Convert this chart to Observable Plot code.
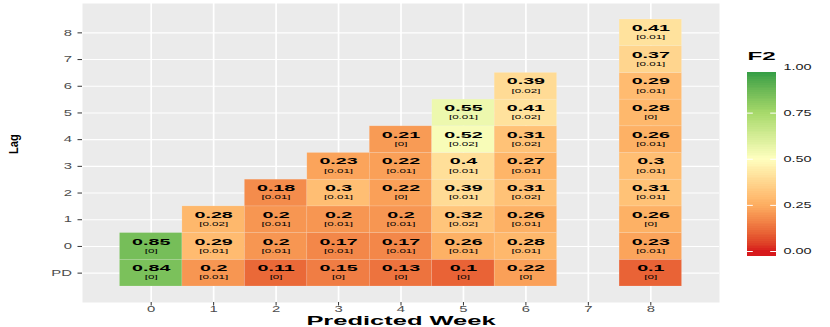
<!DOCTYPE html>
<html><head><meta charset="utf-8">
<script src="https://cdn.jsdelivr.net/npm/d3@7"></script>
<script src="https://cdn.jsdelivr.net/npm/@observablehq/plot@0.6"></script>
<style>
body{margin:0;background:#fff;}
#fig{position:relative;width:830px;height:327px;overflow:hidden;}
#fig svg{position:absolute;top:0;}
</style></head><body><div id="fig"></div>
<script>
// ---- data ----
const weeks = [0,1,2,3,4,5,6,7,8];            // x tick labels
const lagLabels = ["PD","0","1","2","3","4","5","6","7","8"]; // y tick labels
const lagValues = [-1,0,1,2,3,4,5,6,7,8];

// F2 per predicted week, lag from PD upwards
const f2W0 = [0.84, 0.85];
const seW0 = ["0","0"];
const f2W1 = [0.2, 0.29, 0.28];
const seW1 = ["0.01","0.01","0.02"];
const f2W2 = [0.11, 0.2, 0.2, 0.18];
const seW2 = ["0","0.01","0.01","0.01"];
const f2W3 = [0.15, 0.17, 0.2, 0.3, 0.23];
const seW3 = ["0","0.01","0.01","0.01","0.01"];
const f2W4 = [0.13, 0.17, 0.2, 0.22, 0.22, 0.21];
const seW4 = ["0","0.01","0.01","0","0.01","0"];
const f2W5 = [0.1, 0.26, 0.32, 0.39, 0.4, 0.52, 0.55];
const seW5 = ["0","0.01","0.02","0.01","0.01","0.02","0.01"];
const f2W6 = [0.22, 0.28, 0.26, 0.31, 0.27, 0.31, 0.41, 0.39];
const seW6 = ["0","0.01","0.01","0.02","0.01","0.02","0.02","0.02"];
const f2W8 = [0.1, 0.23, 0.26, 0.31, 0.3, 0.26, 0.28, 0.29, 0.37, 0.41];
const seW8 = ["0","0.01","0","0.01","0.01","0.01","0","0.01","0.01","0.01"];

const legendBreaks = [0, 0.25, 0.5, 0.75, 1];
const legendLabels = ["0.00","0.25","0.50","0.75","1.00"];
const paletteColors = ["#d7191c","#fdae61","#ffffbf","#a6d96a","#1a9641"];

// ---- build table ----
const columns = [[0,f2W0,seW0],[1,f2W1,seW1],[2,f2W2,seW2],[3,f2W3,seW3],[4,f2W4,seW4],[5,f2W5,seW5],[6,f2W6,seW6],[8,f2W8,seW8]];
const cells = [];
for (const [w, f, s] of columns) f.forEach((v, i) => cells.push({week: w, lag: lagValues[i], f2: v, se: s[i]}));

const FONT = '"Liberation Sans", Arial, Helvetica, sans-serif';
const colorOpts = {type: "linear", domain: legendBreaks, range: paletteColors, interpolate: d3.interpolateLab, clamp: true};

// widen text glyphs (the reference's lettering is stretched);
// the stretch factor is chosen by the font size of the text's mark group
function stretchAll(svg, map) {
  svg.querySelectorAll("text").forEach(t => {
    const g = t.closest("[font-size]");
    if (!g) return;
    const s = map[String(+g.getAttribute("font-size"))];
    if (!s) return;
    let tr = t.getAttribute("transform") || "";
    const rotated = /rotate/.test(tr);
    const xa = t.getAttribute("x");
    if (xa !== null && !isNaN(+xa)) {
      const ya = t.getAttribute("y");
      if (ya !== null && !isNaN(+ya)) {
        tr = `translate(${+xa},${+ya}) ` + tr;
        t.removeAttribute("y");
      } else {
        tr = `translate(${+xa},0) ` + tr;
      }
      t.removeAttribute("x");
    }
    t.setAttribute("transform", rotated ? `${tr} scale(1,${s})` : `${tr} scale(${s},1)`);
  });
}

const main = Plot.plot({
  width: 830, height: 327,
  marginLeft: 82, marginRight: 111, marginTop: 3, marginBottom: 25,
  x: {domain: [-1.1, 9.1], axis: null},
  y: {domain: [-2.1, 9.1], axis: null},
  color: colorOpts,
  style: {fontFamily: FONT, background: "transparent", overflow: "visible"},
  marks: [
    Plot.frame({fill: "#ebebeb"}),
    Plot.gridX({ticks: weeks, stroke: "white", strokeOpacity: 1, strokeWidth: 1.7}),
    Plot.gridY({ticks: lagValues, stroke: "white", strokeOpacity: 1, strokeWidth: 1.1}),
    Plot.rect(cells, {x1: d => d.week - 0.5, x2: d => d.week + 0.5, y1: d => d.lag - 0.5, y2: d => d.lag + 0.5, fill: "f2",
      stroke: "white", strokeOpacity: 0.2, strokeWidth: 0.6}),
    Plot.text(cells, {x: "week", y: "lag", text: d => String(d.f2), fontWeight: "bold", fontSize: 9.6, dy: -5, fill: "black"}),
    Plot.text(cells, {x: "week", y: "lag", text: d => `[${d.se}]`, fontSize: 5.8, dy: 4.5, fill: "black"}),
    Plot.axisX({ticks: weeks, tickSize: 3.5, tickPadding: 0, fontSize: 8.5, label: null, stroke: "#333", fill: "#4d4d4d"}),
    Plot.axisY({ticks: lagValues, tickSize: 4.5, tickPadding: 6, fontSize: 8.5, label: null, stroke: "#333", fill: "#4d4d4d",
      tickFormat: d => lagLabels[lagValues.indexOf(d)]}),
    Plot.text(["Predicted Week"], {frameAnchor: "bottom", lineAnchor: "bottom", dy: 22.5, fontWeight: "bold", fontSize: 13, fill: "black"}),
    Plot.text(["Lag"], {frameAnchor: "left", rotate: -90, dx: -69, dy: 1, fontWeight: "bold", fontSize: 11.2, fill: "black"})
  ]
});
stretchAll(main, {"9.6": 2.05, "5.8": 2.0, "8.5": 1.75, "13": 1.96, "11.2": 1.2});
main.style.left = "0px";
document.getElementById("fig").appendChild(main);

// ---- legend (vertical colour bar) ----
const nb = 100, lo = -0.025, hi = 0.971;
const bins = d3.range(nb).map(i => ({a: lo + (hi - lo) * i / nb, b: lo + (hi - lo) * (i + 1) / nb}));
const legend = Plot.plot({
  width: 100, height: 327,
  marginLeft: 17, marginRight: 54, marginTop: 66.5, marginBottom: 76,
  x: {domain: [0, 1], axis: null},
  y: {domain: [0, 1], axis: null},
  color: colorOpts,
  style: {fontFamily: FONT, background: "transparent", overflow: "visible"},
  marks: [
    Plot.rect(bins, {x1: 0, x2: 1, y1: "a", y2: "b", fill: d => (d.a + d.b) / 2, inset: 0, shapeRendering: "crispEdges"}),
    Plot.ruleY(legendBreaks.filter(v => v < hi), {x1: 0, x2: 0.2, stroke: "white", strokeWidth: 1}),
    Plot.ruleY(legendBreaks.filter(v => v < hi), {x1: 0.8, x2: 1, stroke: "white", strokeWidth: 1}),
    Plot.text(legendBreaks, {x: 1, y: d => d, text: (d, i) => legendLabels[i], dx: 7, textAnchor: "start", fontSize: 8.5, fill: "#1a1a1a"}),
    Plot.text(["F2"], {frameAnchor: "top-left", dy: -15, textAnchor: "start", fontWeight: "bold", fontSize: 11, fill: "black"})
  ]
});
stretchAll(legend, {"8.5": 1.7, "11": 2.2});
legend.style.left = "730px";
document.getElementById("fig").appendChild(legend);
</script></body></html>
